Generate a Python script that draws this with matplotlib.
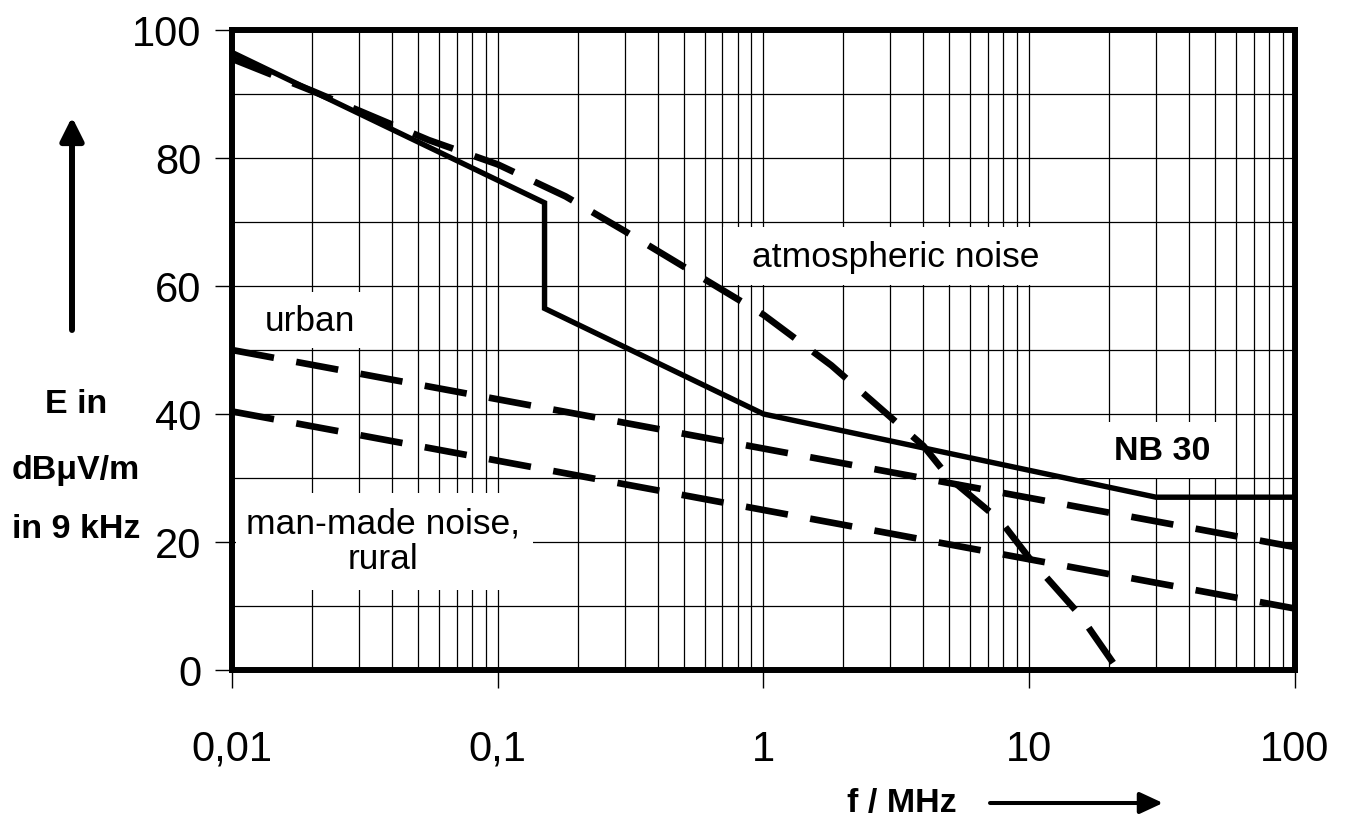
import matplotlib
matplotlib.use('Agg')
import matplotlib.pyplot as plt
from matplotlib.patches import Rectangle
from matplotlib.ticker import FixedLocator, LogLocator, MultipleLocator, NullFormatter, FixedFormatter

plt.rcParams['font.family'] = ['Liberation Sans', 'DejaVu Sans']

# ---------------- data ----------------
nb30_f = [0.01, 0.15, 0.15, 1, 30, 100]
nb30_e = [96.5, 73, 56.5, 40, 27, 27]

atm_f = [0.01, 0.02, 0.055, 0.1, 0.18, 0.3, 1, 1.8, 4, 5, 7.8, 10, 15.5, 21.6]
atm_e = [95.5, 90.5, 82.8, 79, 74, 68.6, 55.5, 47.6, 35, 30, 23.3, 17.5, 8.6, 0]

urban_f = [0.01, 0.1, 1, 10, 100]
urban_e = [50, 42.3, 34.6, 26.9, 19.2]

rural_f = [0.01, 0.1, 1, 10, 100]
rural_e = [40.4, 32.7, 25.0, 17.3, 9.6]

xticks = [0.01, 0.1, 1, 10, 100]
xtick_labels = ['0,01', '0,1', '1', '10', '100']
yticks = [0, 20, 40, 60, 80, 100]
ytick_labels = ['0', '20', '40', '60', '80', '100']

# ---------------- figure ----------------
W, H = 1346, 821
fig = plt.figure(figsize=(W / 100, H / 100), dpi=100)
ax = fig.add_axes([232 / W, 1 - 670 / H, 1063 / W, 640 / H])
ax.set_xscale('log')
ax.set_xlim(0.01, 100)
ax.set_ylim(0, 100)

ax.xaxis.set_major_locator(FixedLocator(xticks))
ax.xaxis.set_major_formatter(FixedFormatter(xtick_labels))
ax.xaxis.set_minor_locator(LogLocator(base=10, subs=range(2, 10), numticks=20))
ax.xaxis.set_minor_formatter(NullFormatter())
ax.yaxis.set_major_locator(FixedLocator(yticks))
ax.yaxis.set_major_formatter(FixedFormatter(ytick_labels))
ax.yaxis.set_minor_locator(MultipleLocator(10))

ax.set_axisbelow(True)
ax.grid(which='both', color='black', lw=0.9)
ax.tick_params(which='major', axis='x', direction='out', length=13, width=1,
               labelsize=30, pad=30)
ax.tick_params(which='major', axis='y', direction='out', length=12, width=1,
               labelsize=30, pad=10)
ax.tick_params(which='minor', length=0)
for s in ax.spines.values():
    s.set_linewidth(4.3)
    s.set_zorder(5)

# white label boxes (in axes fraction)
boxes = [(0.004, 0.503, 0.121, 0.088),   # urban
         (0.462, 0.602, 0.305, 0.090),   # atmospheric
         (0.755, 0.300, 0.184, 0.088),   # NB 30
         (0.004, 0.125, 0.279, 0.152)]   # man-made
for (x0, y0, w, h) in boxes:
    ax.add_patch(Rectangle((x0, y0), w, h, transform=ax.transAxes,
                           facecolor='white', edgecolor='none', zorder=1))

dash = (6.4, 3.4)
dlw = 4.8
ax.plot(urban_f, urban_e, color='black', lw=dlw, dashes=dash, dash_capstyle='butt', zorder=3)
ax.plot(rural_f, rural_e, color='black', lw=dlw, dashes=dash, dash_capstyle='butt', zorder=3)
ax.plot(atm_f, atm_e, color='black', lw=dlw, dashes=dash, dash_capstyle='butt', zorder=3)
ax.plot(nb30_f, nb30_e, color='black', lw=3.9, solid_joinstyle='miter', zorder=4)

ax.text(0.0734, 0.544, 'urban', transform=ax.transAxes, ha='center', va='center',
        fontsize=25.5, zorder=6)
ax.text(0.624, 0.645, 'atmospheric noise', transform=ax.transAxes, ha='center',
        va='center', fontsize=25.5, zorder=6)
ax.text(0.875, 0.341, 'NB 30', transform=ax.transAxes, ha='center', va='center',
        fontsize=24.5, fontweight='bold', zorder=6)
ax.text(0.142, 0.200, 'man-made noise,\nrural', transform=ax.transAxes, ha='center',
        va='center', fontsize=25.5, linespacing=1.1, zorder=6)

# y-axis label block
for txt, py in [('E in', 404), ('dBμV/m', 471), ('in 9 kHz', 530)]:
    fig.text(76 / W, 1 - py / H, txt, ha='center', va='center', fontsize=24.5,
             fontweight='bold')

fig.text(902 / W, 1 - 803 / H, 'f / MHz', ha='center', va='center', fontsize=24.5,
         fontweight='bold')

# arrows
ax.annotate('', xy=(72, H - 117), xytext=(72, H - 330), xycoords='figure pixels',
            textcoords='figure pixels', annotation_clip=False,
            arrowprops=dict(arrowstyle='-|>,head_length=1.4,head_width=0.7',
                            lw=4.3, color='black', shrinkA=0, shrinkB=0))
ax.annotate('', xy=(1163, H - 803), xytext=(990, H - 803), xycoords='figure pixels',
            textcoords='figure pixels', annotation_clip=False,
            arrowprops=dict(arrowstyle='-|>,head_length=1.4,head_width=0.65',
                            lw=2.9, color='black', shrinkA=0, shrinkB=0))

fig.savefig('out.png', dpi=100)
